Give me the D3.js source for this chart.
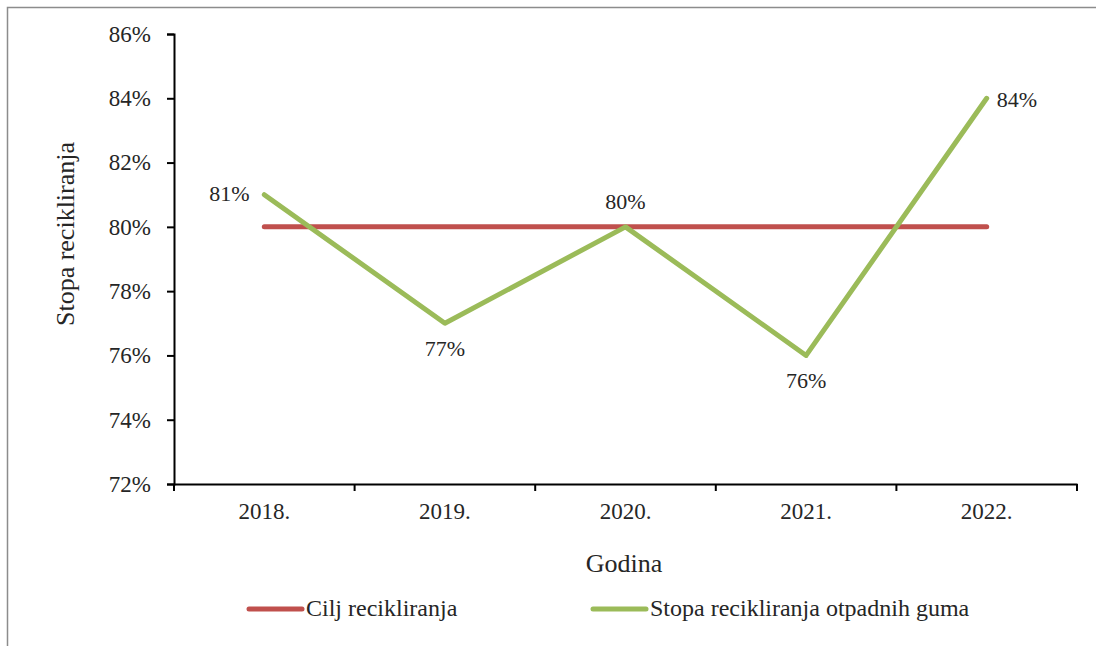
<!DOCTYPE html>
<html>
<head>
<meta charset="utf-8">
<script src="https://cdn.jsdelivr.net/npm/d3@7"></script>
<style>
  html, body { margin: 0; padding: 0; background: #fff; }
  svg { display: block; }
</style>
</head>
<body>
<div id="chart"></div>
<script>
// data
var years = ['2018.', '2019.', '2020.', '2021.', '2022.'];
var target = [0.80, 0.80, 0.80, 0.80, 0.80];
var rate = [0.81, 0.77, 0.80, 0.76, 0.84];
var rateLabels = ['81%', '77%', '80%', '76%', '84%'];
var yTicks = [0.72, 0.74, 0.76, 0.78, 0.80, 0.82, 0.84, 0.86];

const width = 1096, height = 646;
const margin = { top: 34, right: 19, bottom: 162, left: 174 };
const font = '"Liberation Serif", "Times New Roman", serif';
const red = '#C0504D', green = '#9BBB59', txt = '#262626';

const svg = d3.select('#chart').append('svg')
  .attr('width', width).attr('height', height);

// outer frame (cut off at right / bottom like the original)
svg.append('rect')
  .attr('x', 7.5).attr('y', 7.5)
  .attr('width', width + 10).attr('height', height + 10)
  .attr('fill', 'none').attr('stroke', '#8c8c8c').attr('stroke-width', 1.5);

const x = d3.scaleBand().domain(years).range([margin.left, width - margin.right]);
const y = d3.scaleLinear().domain([0.72, 0.86]).range([height - margin.bottom, margin.top]);

// axes
const yAxis = svg.append('g')
  .attr('transform', `translate(${margin.left},0)`)
  .call(d3.axisLeft(y).tickValues(yTicks).tickFormat(d3.format('.0%')).tickSize(7).tickPadding(16));
const xAxis = svg.append('g')
  .attr('transform', `translate(0,${height - margin.bottom})`)
  .call(d3.axisBottom(x).tickSize(0).tickPadding(19));

// category separators (ticks between bands)
xAxis.selectAll('.sep')
  .data(years.concat(['end']))
  .enter().append('line')
  .attr('class', 'sep')
  .attr('x1', (d, i) => margin.left + i * x.step())
  .attr('x2', (d, i) => margin.left + i * x.step())
  .attr('y1', 0).attr('y2', 7)
  .attr('stroke', '#000').attr('stroke-width', 2);

[xAxis, yAxis].forEach(function (g) {
  g.select('.domain').attr('stroke', '#000').attr('stroke-width', 2);
  g.selectAll('.tick line').attr('stroke', '#000').attr('stroke-width', 2);
  g.selectAll('text')
    .style('font-family', font).style('font-size', '23px').attr('fill', txt);
});

// axis titles
svg.append('text')
  .attr('transform', 'translate(74,234) rotate(-90)')
  .attr('text-anchor', 'middle')
  .style('font-family', font).style('font-size', '26px').attr('fill', txt)
  .text('Stopa recikliranja');
svg.append('text')
  .attr('x', 624).attr('y', 572)
  .attr('text-anchor', 'middle')
  .style('font-family', font).style('font-size', '26px').attr('fill', txt)
  .text('Godina');

// lines
const cx = d => x(d) + x.bandwidth() / 2;
const line = d3.line().x((d, i) => cx(years[i])).y(d => y(d));

svg.append('path').datum(target)
  .attr('d', line).attr('fill', 'none')
  .attr('stroke', red).attr('stroke-width', 5).attr('stroke-linecap', 'round');
svg.append('path').datum(rate)
  .attr('d', line).attr('fill', 'none')
  .attr('stroke', green).attr('stroke-width', 5)
  .attr('stroke-linecap', 'round').attr('stroke-linejoin', 'round');

// data labels
const labelPos = [
  { dx: -35, dy: 6, anchor: 'middle' },
  { dx: 0, dy: 33, anchor: 'middle' },
  { dx: 0, dy: -18, anchor: 'middle' },
  { dx: 0, dy: 33, anchor: 'middle' },
  { dx: 10, dy: 9, anchor: 'start' }
];
svg.selectAll('.dlabel')
  .data(rate)
  .enter().append('text')
  .attr('class', 'dlabel')
  .attr('x', (d, i) => cx(years[i]) + labelPos[i].dx)
  .attr('y', (d, i) => y(d) + labelPos[i].dy)
  .attr('text-anchor', (d, i) => labelPos[i].anchor)
  .style('font-family', font).style('font-size', '22px').attr('fill', txt)
  .text((d, i) => rateLabels[i]);

// legend
const legend = [
  { name: 'Cilj recikliranja', color: red, x: 249 },
  { name: 'Stopa recikliranja otpadnih guma', color: green, x: 593 }
];
const lg = svg.selectAll('.legend').data(legend).enter().append('g')
  .attr('class', 'legend')
  .attr('transform', d => `translate(${d.x},609)`);
lg.append('line')
  .attr('x1', 0).attr('x2', 53).attr('y1', 0).attr('y2', 0)
  .attr('stroke', d => d.color).attr('stroke-width', 5).attr('stroke-linecap', 'round');
lg.append('text')
  .attr('x', 57).attr('y', 7)
  .style('font-family', font).style('font-size', '24px').attr('fill', txt)
  .text(d => d.name);
</script>
</body>
</html>
